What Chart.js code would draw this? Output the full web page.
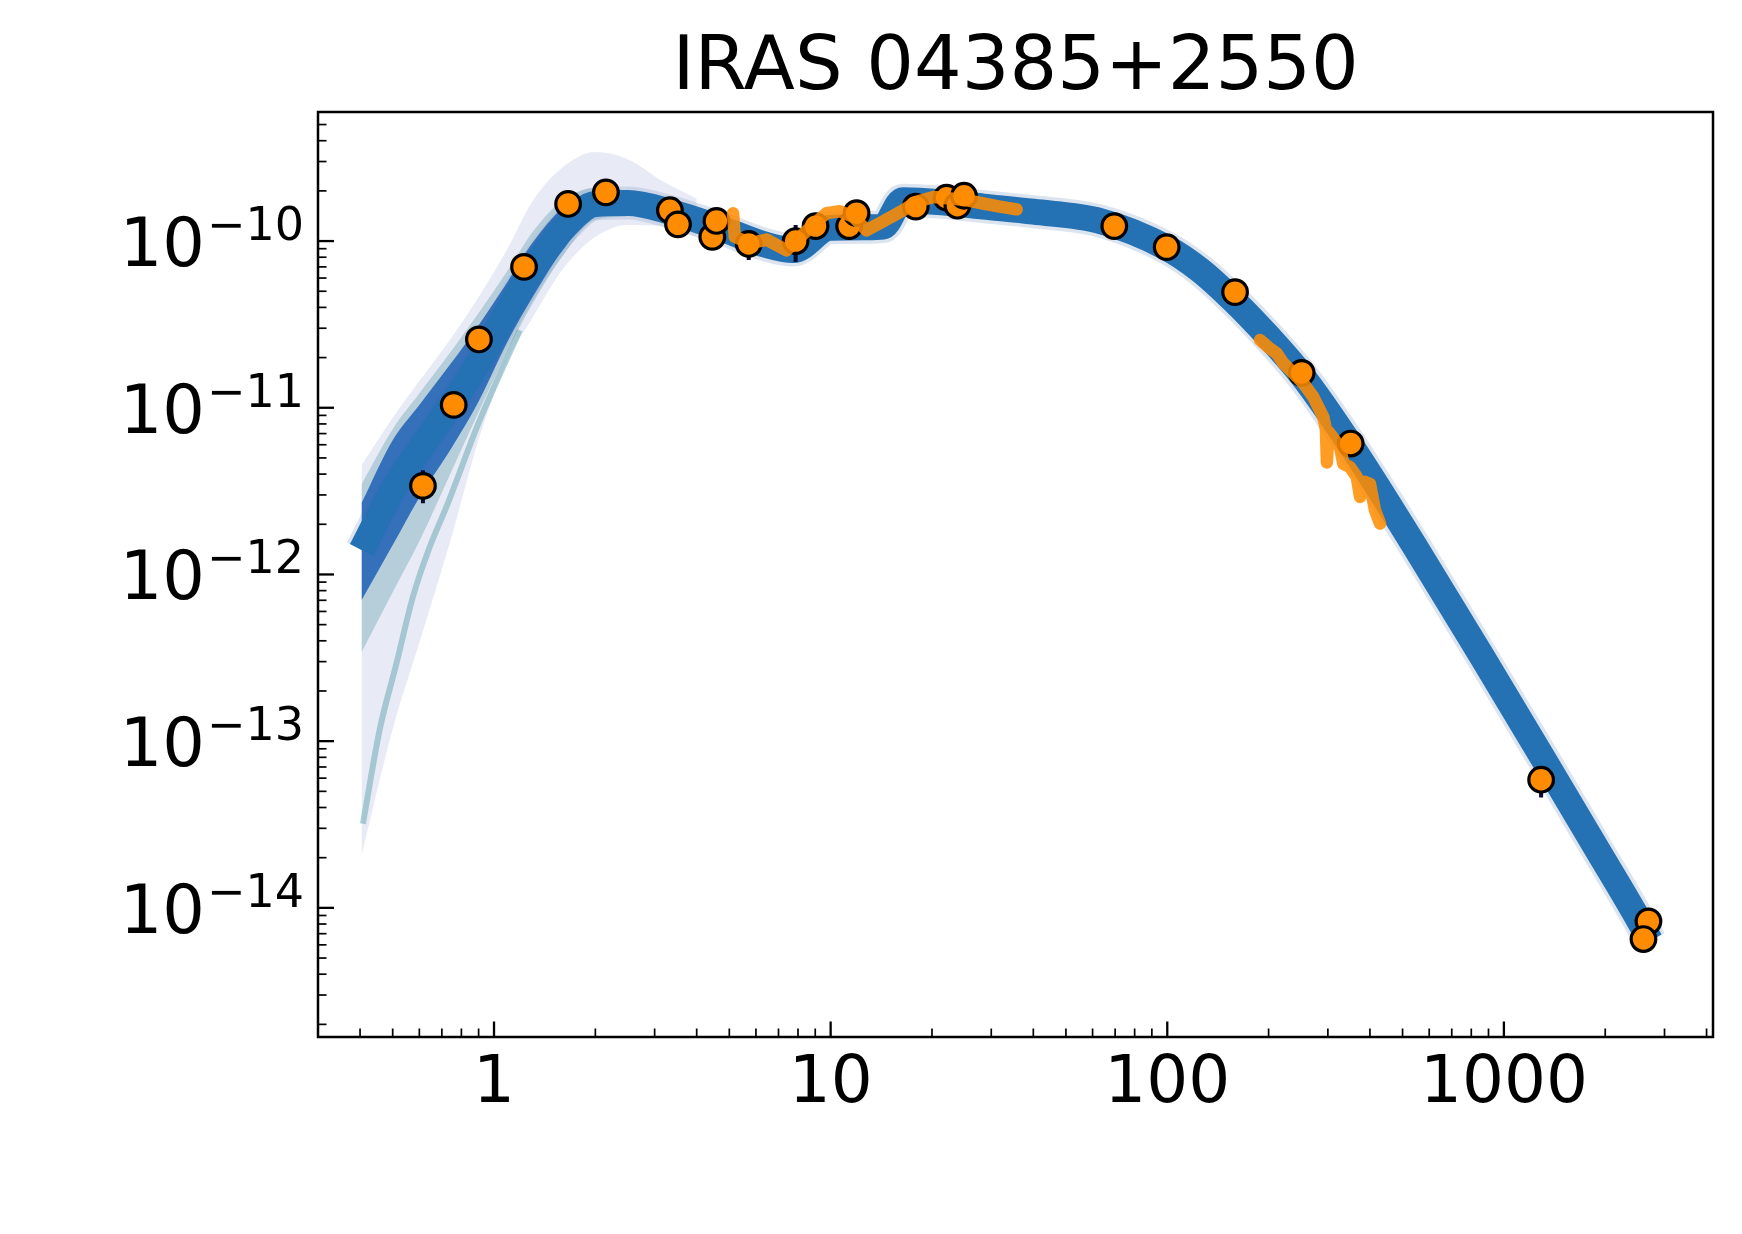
<!DOCTYPE html>
<html><head><meta charset="utf-8">
<script src="https://cdn.jsdelivr.net/npm/chart.js@4/dist/chart.umd.min.js"></script>
<style>html,body{margin:0;padding:0;background:#fff;} #wrap{width:1742px;height:1234px;}</style>
</head><body><div id="wrap"><canvas id="c" width="1742" height="1234"></canvas></div>
<script>
// ---------------- data ----------------
const titleText = 'IRAS 04385+2550';
const xTickValues = [1, 10, 100, 1000];
const xTickLabels = ['1', '10', '100', '1000'];
const yTickExponents = [-10, -11, -12, -13, -14];
const xMin = 0.3, xMax = 4180;
const yMin = 1.68e-15, yMax = 5.946e-10;

// photometry (wavelength in micron, flux)
const photLam  = [0.615,0.759,0.902,1.228,1.66,2.15,3.33,3.52,4.45,4.58,5.71,7.87,9.02,11.35,11.94,17.9,22.1,23.8,24.9,69.6,99.6,159,250.8,350.6,1290,2688,2598];
const photFlux = [3.4e-12,1.04e-11,2.57e-11,7.0e-11,1.67e-10,1.96e-10,1.53e-10,1.26e-10,1.06e-10,1.32e-10,9.6e-11,1.0e-10,1.23e-10,1.23e-10,1.47e-10,1.61e-10,1.82e-10,1.63e-10,1.87e-10,1.23e-10,9.2e-11,4.94e-11,1.62e-11,6.1e-12,5.87e-14,8.3e-15,6.5e-15];

// error bars
const errLam = [0.615, 5.71, 7.87, 1290];
const errLo  = [2.67e-12, 7.7e-11, 7.5e-11, 4.6e-14];
const errHi  = [4.22e-12, 1.15e-10, 1.25e-10, 7.0e-14];

// spectra
const irsLam  = [5.13,5.19,5.75,6.45,7.39,7.92,8.87,9.72,10.65,11.66,12.79,14.3,16.43,18.0,20.2,22.6,25.3,28.4,31.8,35.7];
const irsFlux = [1.47e-10,1.06e-10,9.7e-11,1.02e-10,8.8e-11,1.01e-10,1.25e-10,1.47e-10,1.51e-10,1.40e-10,1.16e-10,1.31e-10,1.53e-10,1.72e-10,1.84e-10,1.80e-10,1.76e-10,1.68e-10,1.61e-10,1.55e-10];
const spireLam  = [188.6,200,211.4,221.3,253.7,271.6,290.8,296,298,301,326,333.6,349,365.5,373.9,385,400,414,428.7];
const spireFlux = [2.55e-11,2.3e-11,2.12e-11,1.85e-11,1.40e-11,1.16e-11,8.8e-12,7.4e-12,4.7e-12,7.2e-12,5.8e-12,4.6e-12,4.4e-12,3.85e-12,2.92e-12,3.6e-12,3.5e-12,2.43e-12,2.02e-12];

// central model curve
const modelLam  = [0.404,0.5,0.6,0.75,0.9,1.1,1.3,1.6,2.0,2.5,3.33,4.58,6.45,7.74,9.95,12.79,14.3,16.4,22.6,28.4,40.0,63.1,99.6,125,159,199,250.8,349,550,859,1290,1888,2455,2720];
const modelFlux = [1.40e-12,3.20e-12,5.57e-12,1.06e-11,1.87e-11,3.83e-11,6.70e-11,1.18e-10,1.67e-10,1.69e-10,1.50e-10,1.22e-10,9.46e-11,8.83e-11,1.20e-10,1.21e-10,1.22e-10,1.76e-10,1.69e-10,1.61e-10,1.50e-10,1.32e-10,9.12e-11,6.70e-11,4.31e-11,2.69e-11,1.57e-11,6.07e-12,1.42e-12,3.24e-13,8.25e-14,2.26e-14,9.23e-15,6.34e-15];

// model spread (envelopes) on the short-wavelength side
const fanLam = [0.404,0.5,0.6,0.75,0.9,1.1,1.3,1.6,2.0,2.5,3.2,4.0];
const faintUpperFlux = [4.52e-12,8.71e-12,1.445e-11,2.66e-11,4.61e-11,9.12e-11,1.73e-10,2.77e-10,3.42e-10,3.10e-10,2.26e-10,1.80e-10];
const faintLowerFlux = [2.06e-14,1.18e-13,3.89e-13,1.71e-12,6.44e-12,1.93e-11,3.45e-11,6.77e-11,1.06e-10,1.25e-10,1.23e-10,1.06e-10];
const bandLam = [0.404,0.5,0.6,0.75,0.9,1.1,1.3,1.6,2.0,2.5];
const tealUpperFlux  = [3.48e-12,7.44e-12,1.22e-11,2.22e-11,3.70e-11,6.70e-11,1.13e-10,1.76e-10,2.08e-10,2.02e-10];
const tealLowerFlux  = [3.40e-13,7.82e-13,1.58e-12,4.22e-12,9.42e-12,2.22e-11,4.19e-11,8.13e-11,1.34e-10,1.41e-10];
const denseUpperFlux = [2.68e-12,6.39e-12,1.04e-11,1.88e-11,3.13e-11,5.75e-11,9.73e-11,1.58e-10,1.97e-10,1.99e-10];
const denseLowerFlux = [7.0e-13,1.50e-12,2.90e-12,5.80e-12,1.09e-11,2.52e-11,4.58e-11,8.80e-11,1.41e-10,1.43e-10];
const stripeLam  = [0.408,0.457,0.513,0.574,0.644,0.722,0.907,1.192];
const stripeFlux = [3.2e-14,1.16e-13,2.92e-13,7.33e-13,1.46e-12,2.54e-12,8.42e-12,2.92e-11];

// ---------------- helpers ----------------
const pts = (xs, ys) => xs.map((v, i) => ({x: v, y: ys[i]}));
const errPts = [];
errLam.forEach((l, i) => { errPts.push({x: l, y: errLo[i]}, {x: l, y: errHi[i]}, {x: l, y: null}); });

const base = {pointRadius: 0, pointHoverRadius: 0, fill: false, borderWidth: 0, showLine: true};

const datasets = [
  // 0,1 faint envelope
  {...base, data: pts(fanLam, faintUpperFlux), fill: '+1', backgroundColor: 'rgba(178,190,222,0.30)', cubicInterpolationMode: 'monotone', order: 10},
  {...base, data: pts(fanLam, faintLowerFlux), cubicInterpolationMode: 'monotone', order: 10},
  // 2,3 teal envelope
  {...base, data: pts(bandLam, tealUpperFlux), fill: '+1', backgroundColor: 'rgba(112,168,182,0.42)', cubicInterpolationMode: 'monotone', order: 9},
  {...base, data: pts(bandLam, tealLowerFlux), cubicInterpolationMode: 'monotone', order: 9},
  // 4 teal stripe
  {...base, data: pts(stripeLam, stripeFlux), borderWidth: 6, borderColor: 'rgba(110,170,180,0.55)', cubicInterpolationMode: 'monotone', order: 8},
  // 5 halo
  {...base, data: pts(modelLam, modelFlux), borderWidth: 33, borderColor: 'rgba(150,172,205,0.33)', cubicInterpolationMode: 'monotone', order: 7},
  // 6,7 dense band
  {...base, data: pts(bandLam, denseUpperFlux), fill: '+1', backgroundColor: 'rgba(42,104,184,0.92)', cubicInterpolationMode: 'monotone', order: 6},
  {...base, data: pts(bandLam, denseLowerFlux), cubicInterpolationMode: 'monotone', order: 6},
  // 8 central model
  {...base, data: pts(modelLam, modelFlux), borderWidth: 26, borderColor: '#2471b3', cubicInterpolationMode: 'monotone', borderJoinStyle: 'round', order: 5},
  // 9 error bars
  {...base, data: errPts, borderWidth: 4, borderColor: '#0a0a30', spanGaps: false, order: 4},
  // 10 photometry
  {data: pts(photLam, photFlux), showLine: false, pointRadius: 12.3, pointHoverRadius: 12.3, pointBackgroundColor: '#ff8c00', pointBorderColor: '#000', pointBorderWidth: 3.2, order: 3},
  // 11,12 spectra
  {...base, data: pts(irsLam, irsFlux), borderWidth: 12.5, borderColor: 'rgba(255,140,0,0.86)', borderJoinStyle: 'round', borderCapStyle: 'round', order: 2},
  {...base, data: pts(spireLam, spireFlux), borderWidth: 12.5, borderColor: 'rgba(255,140,0,0.86)', borderJoinStyle: 'round', borderCapStyle: 'round', order: 1}
];

const FONT = '"DejaVu Sans", sans-serif';

const axesPlugin = {
  id: 'axesPlugin',
  beforeDraw(chart) {
    const c = chart.ctx;
    c.save(); c.fillStyle = '#fff'; c.fillRect(0, 0, chart.width, chart.height); c.restore();
  },
  afterDraw(chart) {
    const c = chart.ctx, a = chart.chartArea, xs = chart.scales.x, ys = chart.scales.y;
    c.save();
    c.strokeStyle = '#000'; c.fillStyle = '#000';
    // x ticks (inward, bottom)
    for (let e = -1; e <= 3; e++) for (let m = 1; m <= 9; m++) {
      const v = m * Math.pow(10, e);
      if (v < xs.min || v > xs.max) continue;
      const px = xs.getPixelForValue(v);
      const major = m === 1;
      c.lineWidth = major ? 2.3 : 1.7;
      c.beginPath(); c.moveTo(px, a.bottom); c.lineTo(px, a.bottom - (major ? 15.5 : 8.5)); c.stroke();
    }
    // y ticks (inward, left)
    for (let e = -15; e <= -10; e++) for (let m = 1; m <= 9; m++) {
      const v = m * Math.pow(10, e);
      if (v < ys.min || v > ys.max) continue;
      const py = ys.getPixelForValue(v);
      const major = m === 1;
      c.lineWidth = major ? 2.3 : 1.7;
      c.beginPath(); c.moveTo(a.left, py); c.lineTo(a.left + (major ? 16 : 8.5), py); c.stroke();
    }
    // frame
    c.lineWidth = 2.5;
    c.strokeRect(a.left, a.top, a.right - a.left, a.bottom - a.top);
    // x labels
    c.font = '66px ' + FONT; c.textAlign = 'center'; c.textBaseline = 'alphabetic';
    xTickValues.forEach((v, i) => c.fillText(xTickLabels[i], xs.getPixelForValue(v), 1101.5));
    // y labels 10^{e}
    yTickExponents.forEach(e => {
      const py = ys.getPixelForValue(Math.pow(10, e));
      const mainTxt = '10', supTxt = '\u2212' + String(-e);
      c.font = '67px ' + FONT; const wm = c.measureText(mainTxt).width;
      c.font = '46px ' + FONT; const wsup = c.measureText(supTxt).width;
      const right = 304, gap = 2;
      const x0 = right - wsup - gap - wm;
      c.textAlign = 'left';
      c.font = '67px ' + FONT; c.fillText(mainTxt, x0, py + 25);
      c.font = '46px ' + FONT; c.fillText(supTxt, x0 + wm + gap, py - 1);
    });
    // title
    c.font = '75px ' + FONT; c.textAlign = 'center';
    c.fillText(titleText, (a.left + a.right) / 2, 89);
    c.restore();
  }
};

new Chart(document.getElementById('c'), {
  type: 'line',
  data: {datasets},
  options: {
    responsive: false, devicePixelRatio: 1, animation: false, events: [],
    layout: {padding: {left: 318, top: 112, right: 29, bottom: 197}},
    plugins: {legend: {display: false}, title: {display: false}, tooltip: {enabled: false}},
    scales: {
      x: {type: 'logarithmic', min: xMin, max: xMax, display: false},
      y: {type: 'logarithmic', min: yMin, max: yMax, display: false}
    }
  },
  plugins: [axesPlugin]
});
</script>
</body></html>
